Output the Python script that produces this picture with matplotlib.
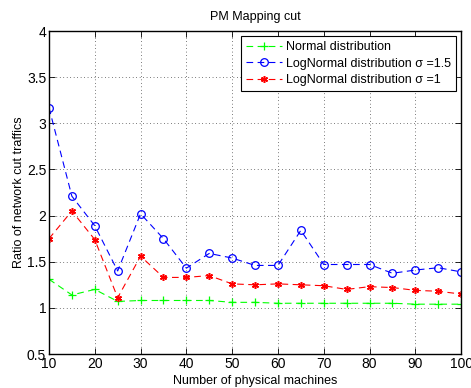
import numpy as np
import matplotlib
matplotlib.use('Agg')
import matplotlib.pyplot as plt

plt.rcParams['font.family'] = ['Liberation Sans', 'DejaVu Sans']

machines = [10, 15, 20, 25, 30, 35, 40, 45, 50, 55, 60, 65, 70, 75, 80, 85, 90, 95, 100]
normal = [1.31, 1.14, 1.20, 1.07, 1.08, 1.08, 1.08, 1.08, 1.06, 1.06, 1.05, 1.05,
          1.05, 1.05, 1.05, 1.05, 1.04, 1.04, 1.04]
lognorm_15 = [3.17, 2.21, 1.89, 1.40, 2.02, 1.75, 1.43, 1.59, 1.54, 1.46, 1.46, 1.84,
              1.47, 1.47, 1.47, 1.375, 1.41, 1.435, 1.39]
lognorm_1 = [1.75, 2.05, 1.74, 1.11, 1.56, 1.33, 1.33, 1.35, 1.26, 1.25, 1.26, 1.25,
             1.24, 1.20, 1.23, 1.22, 1.19, 1.18, 1.15]

fig = plt.figure(figsize=(4.71, 3.88), dpi=100)
ax = fig.add_axes([0.104, 0.0876, 0.875, 0.8324])

dash = (0, (6, 4))
ax.plot(machines, normal, color=(0, 1, 0), linestyle=dash, lw=0.8,
        marker='+', ms=6, mew=0.9, label='Normal distribution')
ax.plot(machines, lognorm_15, color=(0, 0, 1), linestyle=dash, lw=0.8,
        marker='o', ms=5.5, mfc='none', mew=0.9, label=u'LogNormal distribution \u03c3 =1.5')
ax.plot(machines, lognorm_1, color=(1, 0, 0), linestyle=dash, lw=0.8,
        marker=(6, 2, 0), ms=5, mew=1.1, label=u'LogNormal distribution \u03c3 =1')

ax.set_xlim(10, 100)
ax.set_ylim(0.5, 4)
ax.set_xticks(np.arange(10, 101, 10))
ax.set_yticks(np.arange(0.5, 4.01, 0.5))
ax.set_yticklabels(['0.5', '1', '1.5', '2', '2.5', '3', '3.5', '4'])
ax.tick_params(direction='in', top=True, right=True, labelsize=10, length=4, width=0.6, pad=2)
ax.grid(True, color='black', linestyle=(0, (1, 4)), lw=0.5)
for s in ax.spines.values():
    s.set_linewidth(1.0)

ax.set_title('PM Mapping cut', fontsize=9, pad=8)
ax.set_xlabel('Number of physical machines', fontsize=9, labelpad=3)
ax.set_ylabel('Ratio of network cut traffics', fontsize=9, labelpad=1)

leg = ax.legend(loc='upper right', fontsize=9, fancybox=False, framealpha=1,
                edgecolor='black', borderpad=0.4, labelspacing=0.36,
                handlelength=2.9, handletextpad=0.3, borderaxespad=0.4)
leg.get_frame().set_linewidth(0.8)

fig.savefig('out.png', dpi=100)
